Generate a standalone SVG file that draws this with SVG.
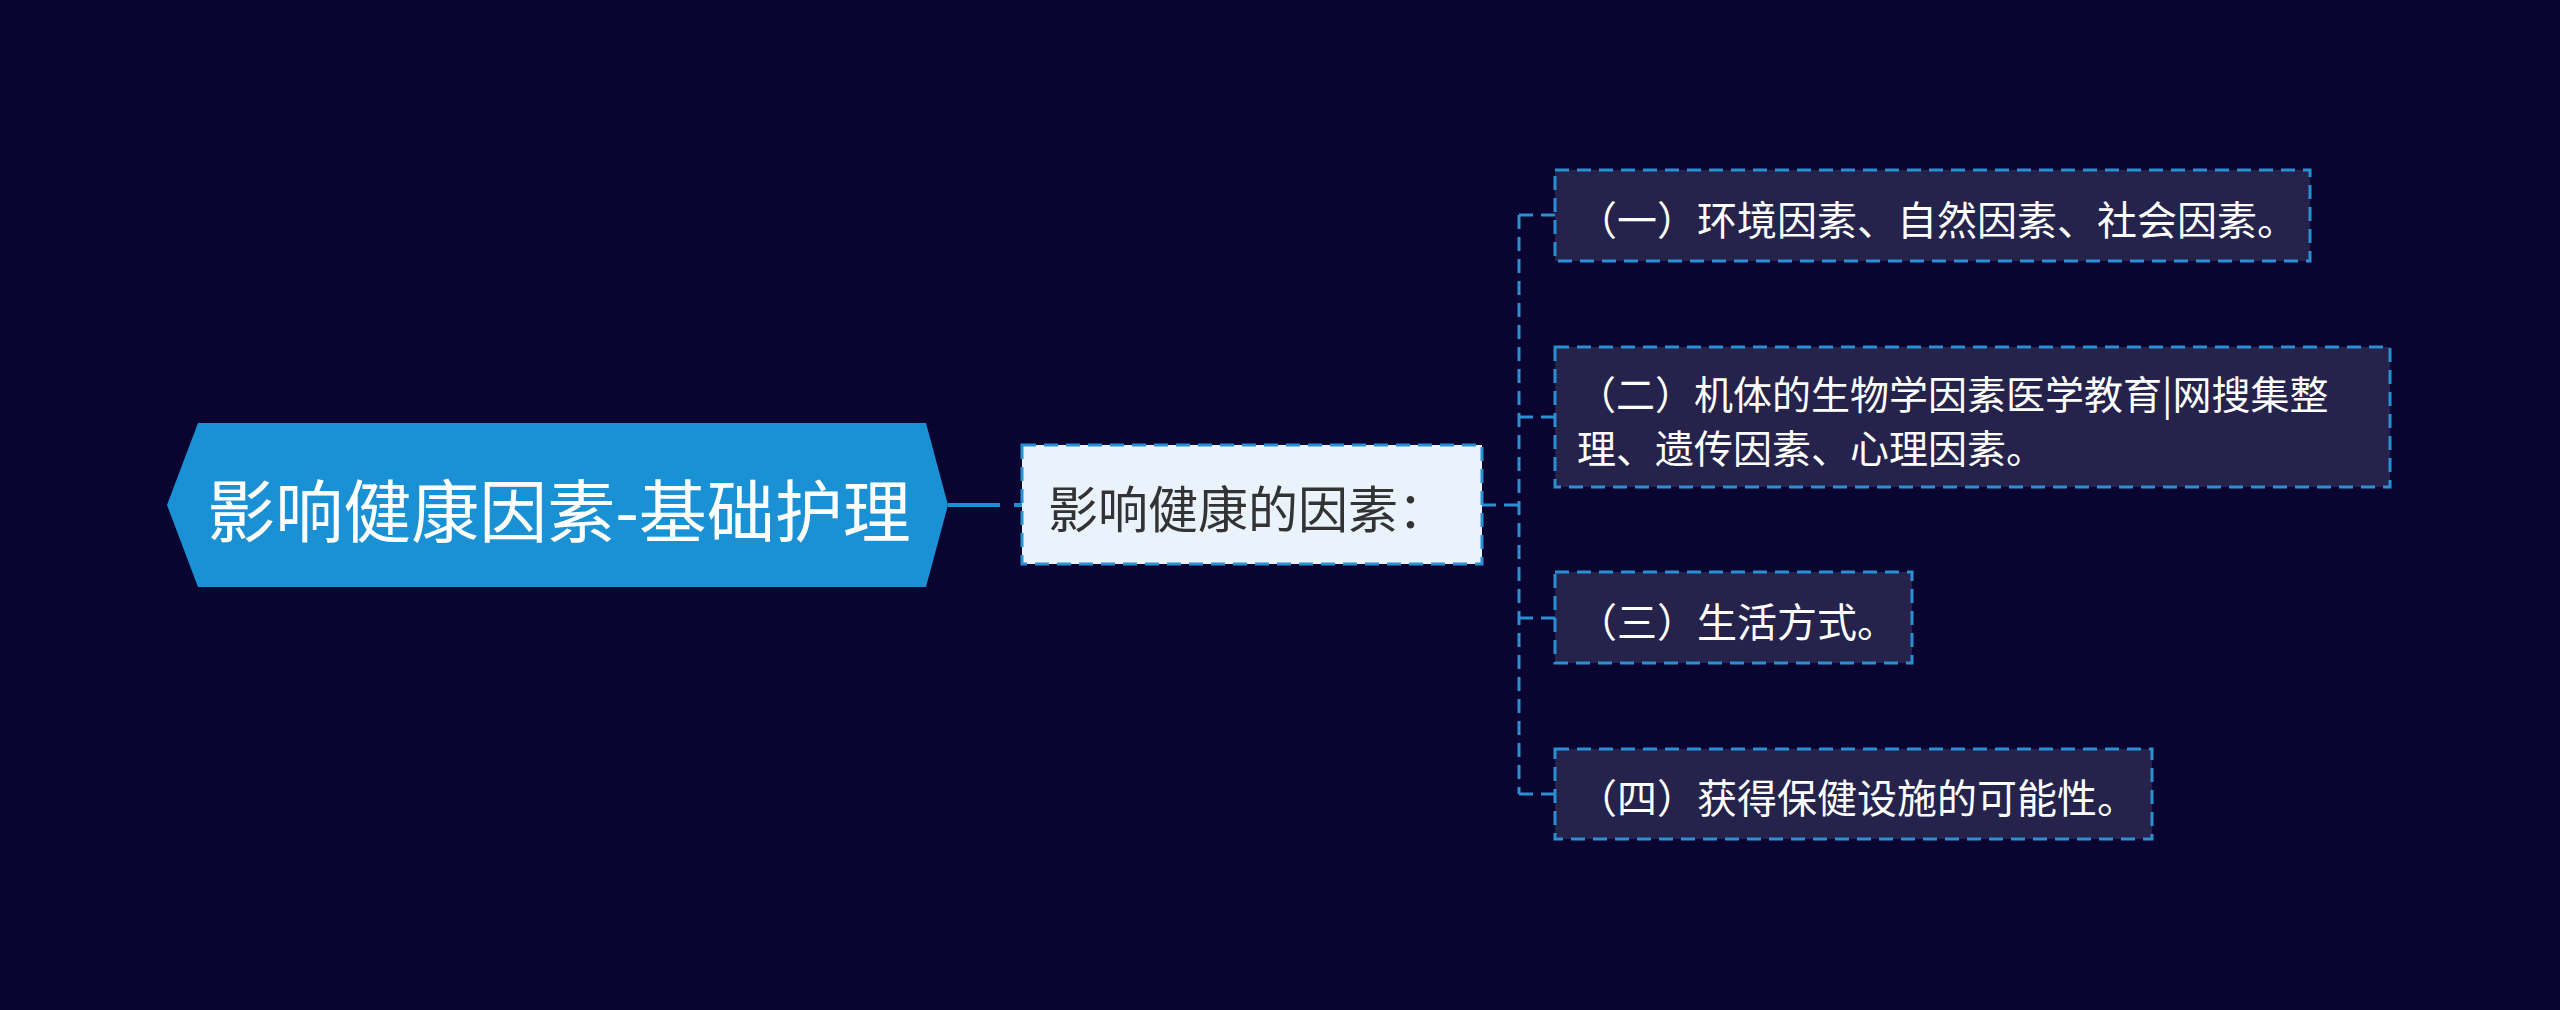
<svg xmlns="http://www.w3.org/2000/svg" width="2560" height="1010" viewBox="0 0 2560 1010">
<style>
.bg{fill:#0a0530}
.root{fill:#1a91d5}
.roottxt{font-family:"Noto Sans CJK SC","Noto Sans",sans-serif;font-size:68px;fill:#ffffff}
.mid{fill:#eaf2fc;stroke:#2a8fd3;stroke-width:3;stroke-dasharray:14 8}
.midtxt{font-family:"Noto Sans CJK SC","Noto Sans",sans-serif;font-size:50px;fill:#333333}
.leaf{fill:#25234b;stroke:#2a8fd3;stroke-width:3;stroke-dasharray:14 8}
.leaftxt{font-family:"Noto Sans CJK SC","Noto Sans",sans-serif;font-size:40px;fill:#ffffff}
.leaftxt2{font-family:"Noto Sans CJK SC","Noto Sans",sans-serif;font-size:39px;fill:#ffffff}
.edge{fill:none;stroke:#2a8fd3;stroke-width:3;stroke-dasharray:14 8}
</style>
<rect class="bg" x="0" y="0" width="2560" height="1010"/>
<g id="connectors">
<path d="M948,505 H1022" fill="none" stroke="#1a91d5" stroke-width="4" stroke-dasharray="52 14"/>
<path class="edge" d="M1482,505 H1519"/>
<path class="edge" d="M1519,215 V794"/>
<path class="edge" d="M1519,215 H1555"/>
<path class="edge" d="M1519,417 H1555"/>
<path class="edge" d="M1519,618 H1555"/>
<path class="edge" d="M1519,794 H1555"/>
</g>
<g id="root">
<polygon class="root" points="167,505 198,423 926,423 948,505 926,587 198,587"/>
<text class="roottxt" x="559" y="507" text-anchor="middle" dominant-baseline="central">影响健康因素-基础护理</text>
</g>
<g id="middle">
<rect class="mid" x="1022" y="445" width="460" height="119"/>
<text class="midtxt" x="1048" y="506" dominant-baseline="central">影响健康的因素：</text>
</g>
<g id="child1">
<rect class="leaf" x="1555" y="170" width="755" height="91"/>
<text class="leaftxt" x="1577" y="218" dominant-baseline="central">（一）环境因素、自然因素、社会因素。</text>
</g>
<g id="child2">
<rect class="leaf" x="1555" y="347" width="835" height="140"/>
<text class="leaftxt2" x="1577" y="392" dominant-baseline="central">（二）机体的生物学因素医学教育|网搜集整</text>
<text class="leaftxt2" x="1577" y="446" dominant-baseline="central">理、遗传因素、心理因素。</text>
</g>
<g id="child3">
<rect class="leaf" x="1555" y="572" width="357" height="91"/>
<text class="leaftxt" x="1577" y="620" dominant-baseline="central">（三）生活方式。</text>
</g>
<g id="child4">
<rect class="leaf" x="1555" y="749" width="597" height="90"/>
<text class="leaftxt" x="1577" y="796" dominant-baseline="central">（四）获得保健设施的可能性。</text>
</g>
</svg>
